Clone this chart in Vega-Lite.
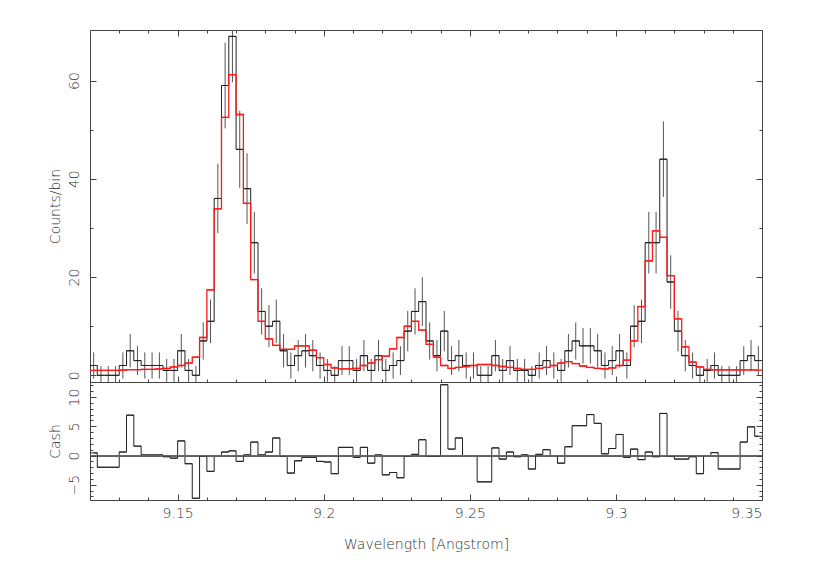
{
"$schema": "https://vega.github.io/schema/vega-lite/v6.json",
"padding": {"left": 48, "top": 29, "right": 5, "bottom": 5},
"spacing": 0,
"bounds": "flush",
"config": {
  "view": {"stroke": null},
  "axis": {"grid": false, "domainColor": "#444", "tickColor": "#444", "labelColor": "#333", "titleColor": "#333", "labelFont": "DejaVu Sans", "titleFont": "DejaVu Sans", "labelFontSize": 14, "titleFontSize": 14, "labelFontWeight": 200, "titleFontWeight": 200}
},
"datasets": {"bins": [
{"lo":9.12,"hi":9.1225,"mid":9.12125,"counts":2,"errLo":-0.66,"errHi":4.66,"model":1.0,"cash":0.45},
{"lo":9.1225,"hi":9.125,"mid":9.12375,"counts":0,"errLo":-1.87,"errHi":1.87,"model":1.0,"cash":-2.0},
{"lo":9.125,"hi":9.1275,"mid":9.12625,"counts":0,"errLo":-1.87,"errHi":1.87,"model":1.0,"cash":-2.0},
{"lo":9.1275,"hi":9.13,"mid":9.12875,"counts":0,"errLo":-1.87,"errHi":1.87,"model":1.0,"cash":-2.0},
{"lo":9.13,"hi":9.1325,"mid":9.13125,"counts":2,"errLo":-0.66,"errHi":4.66,"model":1.05,"cash":0.6},
{"lo":9.1325,"hi":9.135,"mid":9.13375,"counts":5,"errLo":1.6,"errHi":8.4,"model":1.15,"cash":6.9},
{"lo":9.135,"hi":9.1375,"mid":9.13625,"counts":3,"errLo":0.06,"errHi":5.94,"model":1.15,"cash":1.6},
{"lo":9.1375,"hi":9.14,"mid":9.13875,"counts":2,"errLo":-0.66,"errHi":4.66,"model":1.2,"cash":0.1},
{"lo":9.14,"hi":9.1425,"mid":9.14125,"counts":2,"errLo":-0.66,"errHi":4.66,"model":1.2,"cash":0.1},
{"lo":9.1425,"hi":9.145,"mid":9.14375,"counts":2,"errLo":-0.66,"errHi":4.66,"model":1.3,"cash":0.1},
{"lo":9.145,"hi":9.1475,"mid":9.14625,"counts":1,"errLo":-1.32,"errHi":3.32,"model":1.4,"cash":-0.2},
{"lo":9.1475,"hi":9.15,"mid":9.14875,"counts":1,"errLo":-1.32,"errHi":3.32,"model":1.7,"cash":-0.45},
{"lo":9.15,"hi":9.1525,"mid":9.15125,"counts":5,"errLo":1.6,"errHi":8.4,"model":2.0,"cash":2.5},
{"lo":9.1525,"hi":9.155,"mid":9.15375,"counts":1,"errLo":-1.32,"errHi":3.32,"model":2.5,"cash":-1.4},
{"lo":9.155,"hi":9.1575,"mid":9.15625,"counts":0,"errLo":-1.87,"errHi":1.87,"model":3.7,"cash":-7.3},
{"lo":9.1575,"hi":9.16,"mid":9.15875,"counts":7,"errLo":3.22,"errHi":10.78,"model":7.7,"cash":-0.1},
{"lo":9.16,"hi":9.1625,"mid":9.16125,"counts":11,"errLo":6.57,"errHi":15.43,"model":17.4,"cash":-2.7},
{"lo":9.1625,"hi":9.165,"mid":9.16375,"counts":36,"errLo":28.94,"errHi":43.06,"model":33.9,"cash":0.0},
{"lo":9.165,"hi":9.1675,"mid":9.16625,"counts":59,"errLo":50.27,"errHi":67.73,"model":52.5,"cash":0.6},
{"lo":9.1675,"hi":9.17,"mid":9.16875,"counts":69,"errLo":59.65,"errHi":78.35,"model":61.2,"cash":0.8},
{"lo":9.17,"hi":9.1725,"mid":9.17125,"counts":46,"errLo":38.16,"errHi":53.84,"model":53.1,"cash":-1.0},
{"lo":9.1725,"hi":9.175,"mid":9.17375,"counts":38,"errLo":30.78,"errHi":45.22,"model":35.0,"cash":0.1},
{"lo":9.175,"hi":9.1775,"mid":9.17625,"counts":27,"errLo":20.73,"errHi":33.27,"model":19.5,"cash":2.3},
{"lo":9.1775,"hi":9.18,"mid":9.17875,"counts":13,"errLo":8.29,"errHi":17.71,"model":11.0,"cash":0.1},
{"lo":9.18,"hi":9.1825,"mid":9.18125,"counts":10,"errLo":5.72,"errHi":14.28,"model":7.4,"cash":0.6},
{"lo":9.1825,"hi":9.185,"mid":9.18375,"counts":11,"errLo":6.57,"errHi":15.43,"model":6.1,"cash":3.0},
{"lo":9.185,"hi":9.1875,"mid":9.18625,"counts":5,"errLo":1.6,"errHi":8.4,"model":5.3,"cash":-0.1},
{"lo":9.1875,"hi":9.19,"mid":9.18875,"counts":2,"errLo":-0.66,"errHi":4.66,"model":5.3,"cash":-3.0},
{"lo":9.19,"hi":9.1925,"mid":9.19125,"counts":4,"errLo":0.82,"errHi":7.18,"model":6.0,"cash":-0.9},
{"lo":9.1925,"hi":9.195,"mid":9.19375,"counts":5,"errLo":1.6,"errHi":8.4,"model":6.0,"cash":-0.3},
{"lo":9.195,"hi":9.1975,"mid":9.19625,"counts":4,"errLo":0.82,"errHi":7.18,"model":5.1,"cash":-0.3},
{"lo":9.1975,"hi":9.2,"mid":9.19875,"counts":2,"errLo":-0.66,"errHi":4.66,"model":3.6,"cash":-1.0},
{"lo":9.2,"hi":9.2025,"mid":9.20125,"counts":1,"errLo":-1.32,"errHi":3.32,"model":2.2,"cash":-1.1},
{"lo":9.2025,"hi":9.205,"mid":9.20375,"counts":0,"errLo":-1.87,"errHi":1.87,"model":1.5,"cash":-3.1},
{"lo":9.205,"hi":9.2075,"mid":9.20625,"counts":3,"errLo":0.06,"errHi":5.94,"model":1.3,"cash":1.4},
{"lo":9.2075,"hi":9.21,"mid":9.20875,"counts":3,"errLo":0.06,"errHi":5.94,"model":1.3,"cash":1.4},
{"lo":9.21,"hi":9.2125,"mid":9.21125,"counts":1,"errLo":-1.32,"errHi":3.32,"model":1.4,"cash":-0.3},
{"lo":9.2125,"hi":9.215,"mid":9.21375,"counts":4,"errLo":0.82,"errHi":7.18,"model":2.0,"cash":1.4},
{"lo":9.215,"hi":9.2175,"mid":9.21625,"counts":1,"errLo":-1.32,"errHi":3.32,"model":2.5,"cash":-1.3},
{"lo":9.2175,"hi":9.22,"mid":9.21875,"counts":4,"errLo":0.82,"errHi":7.18,"model":3.2,"cash":0.1},
{"lo":9.22,"hi":9.2225,"mid":9.22125,"counts":1,"errLo":-1.32,"errHi":3.32,"model":3.9,"cash":-3.3},
{"lo":9.2225,"hi":9.225,"mid":9.22375,"counts":2,"errLo":-0.66,"errHi":4.66,"model":5.4,"cash":-2.9},
{"lo":9.225,"hi":9.2275,"mid":9.22625,"counts":3,"errLo":0.06,"errHi":5.94,"model":7.7,"cash":-3.8},
{"lo":9.2275,"hi":9.23,"mid":9.22875,"counts":9,"errLo":4.88,"errHi":13.12,"model":10.0,"cash":-0.1},
{"lo":9.23,"hi":9.2325,"mid":9.23125,"counts":13,"errLo":8.29,"errHi":17.71,"model":11.0,"cash":0.2},
{"lo":9.2325,"hi":9.235,"mid":9.23375,"counts":15,"errLo":10.03,"errHi":19.97,"model":9.2,"cash":2.7},
{"lo":9.235,"hi":9.2375,"mid":9.23625,"counts":7,"errLo":3.22,"errHi":10.78,"model":6.3,"cash":-0.1},
{"lo":9.2375,"hi":9.24,"mid":9.23875,"counts":4,"errLo":0.82,"errHi":7.18,"model":3.7,"cash":-0.1},
{"lo":9.24,"hi":9.2425,"mid":9.24125,"counts":9,"errLo":4.88,"errHi":13.12,"model":2.0,"cash":12.1},
{"lo":9.2425,"hi":9.245,"mid":9.24375,"counts":3,"errLo":0.06,"errHi":5.94,"model":1.4,"cash":1.1},
{"lo":9.245,"hi":9.2475,"mid":9.24625,"counts":4,"errLo":0.82,"errHi":7.18,"model":1.6,"cash":3.0},
{"lo":9.2475,"hi":9.25,"mid":9.24875,"counts":2,"errLo":-0.66,"errHi":4.66,"model":1.8,"cash":0.0},
{"lo":9.25,"hi":9.2525,"mid":9.25125,"counts":2,"errLo":-0.66,"errHi":4.66,"model":2.0,"cash":0.0},
{"lo":9.2525,"hi":9.255,"mid":9.25375,"counts":0,"errLo":-1.87,"errHi":1.87,"model":2.2,"cash":-4.5},
{"lo":9.255,"hi":9.2575,"mid":9.25625,"counts":0,"errLo":-1.87,"errHi":1.87,"model":2.2,"cash":-4.5},
{"lo":9.2575,"hi":9.26,"mid":9.25875,"counts":4,"errLo":0.82,"errHi":7.18,"model":2.0,"cash":1.3},
{"lo":9.26,"hi":9.2625,"mid":9.26125,"counts":1,"errLo":-1.32,"errHi":3.32,"model":1.8,"cash":-0.6},
{"lo":9.2625,"hi":9.265,"mid":9.26375,"counts":3,"errLo":0.06,"errHi":5.94,"model":1.6,"cash":0.6},
{"lo":9.265,"hi":9.2675,"mid":9.26625,"counts":1,"errLo":-1.32,"errHi":3.32,"model":1.4,"cash":-0.2},
{"lo":9.2675,"hi":9.27,"mid":9.26875,"counts":1,"errLo":-1.32,"errHi":3.32,"model":1.2,"cash":0.1},
{"lo":9.27,"hi":9.2725,"mid":9.27125,"counts":0,"errLo":-1.87,"errHi":1.87,"model":1.2,"cash":-2.3},
{"lo":9.2725,"hi":9.275,"mid":9.27375,"counts":2,"errLo":-0.66,"errHi":4.66,"model":1.4,"cash":0.2},
{"lo":9.275,"hi":9.2775,"mid":9.27625,"counts":3,"errLo":0.06,"errHi":5.94,"model":1.6,"cash":1.0},
{"lo":9.2775,"hi":9.28,"mid":9.27875,"counts":2,"errLo":-0.66,"errHi":4.66,"model":2.0,"cash":0.0},
{"lo":9.28,"hi":9.2825,"mid":9.28125,"counts":1,"errLo":-1.32,"errHi":3.32,"model":2.5,"cash":-1.3},
{"lo":9.2825,"hi":9.285,"mid":9.28375,"counts":5,"errLo":1.6,"errHi":8.4,"model":2.8,"cash":1.5},
{"lo":9.285,"hi":9.2875,"mid":9.28625,"counts":7,"errLo":3.22,"errHi":10.78,"model":2.4,"cash":5.1},
{"lo":9.2875,"hi":9.29,"mid":9.28875,"counts":6,"errLo":2.4,"errHi":9.6,"model":1.9,"cash":5.1},
{"lo":9.29,"hi":9.2925,"mid":9.29125,"counts":6,"errLo":2.4,"errHi":9.6,"model":1.6,"cash":7.0},
{"lo":9.2925,"hi":9.295,"mid":9.29375,"counts":5,"errLo":1.6,"errHi":8.4,"model":1.4,"cash":5.5},
{"lo":9.295,"hi":9.2975,"mid":9.29625,"counts":2,"errLo":-0.66,"errHi":4.66,"model":1.3,"cash":0.3},
{"lo":9.2975,"hi":9.3,"mid":9.29875,"counts":3,"errLo":0.06,"errHi":5.94,"model":1.5,"cash":1.2},
{"lo":9.3,"hi":9.3025,"mid":9.30125,"counts":5,"errLo":1.6,"errHi":8.4,"model":2.0,"cash":3.6},
{"lo":9.3025,"hi":9.305,"mid":9.30375,"counts":2,"errLo":-0.66,"errHi":4.66,"model":3.1,"cash":-0.3},
{"lo":9.305,"hi":9.3075,"mid":9.30625,"counts":10,"errLo":5.72,"errHi":14.28,"model":7.0,"cash":1.1},
{"lo":9.3075,"hi":9.31,"mid":9.30875,"counts":11,"errLo":6.57,"errHi":15.43,"model":14.0,"cash":-0.7},
{"lo":9.31,"hi":9.3125,"mid":9.31125,"counts":27,"errLo":20.73,"errHi":33.27,"model":23.3,"cash":0.6},
{"lo":9.3125,"hi":9.315,"mid":9.31375,"counts":27,"errLo":20.73,"errHi":33.27,"model":29.4,"cash":-0.2},
{"lo":9.315,"hi":9.3175,"mid":9.31625,"counts":44,"errLo":36.31,"errHi":51.69,"model":28.1,"cash":7.2},
{"lo":9.3175,"hi":9.32,"mid":9.31875,"counts":19,"errLo":13.56,"errHi":24.44,"model":20.3,"cash":-0.1},
{"lo":9.32,"hi":9.3225,"mid":9.32125,"counts":9,"errLo":4.88,"errHi":13.12,"model":11.5,"cash":-0.6},
{"lo":9.3225,"hi":9.325,"mid":9.32375,"counts":4,"errLo":0.82,"errHi":7.18,"model":5.8,"cash":-0.6},
{"lo":9.325,"hi":9.3275,"mid":9.32625,"counts":2,"errLo":-0.66,"errHi":4.66,"model":2.7,"cash":-0.2},
{"lo":9.3275,"hi":9.33,"mid":9.32875,"counts":0,"errLo":-1.87,"errHi":1.87,"model":1.7,"cash":-3.1},
{"lo":9.33,"hi":9.3325,"mid":9.33125,"counts":1,"errLo":-1.32,"errHi":3.32,"model":1.2,"cash":0.0},
{"lo":9.3325,"hi":9.335,"mid":9.33375,"counts":2,"errLo":-0.66,"errHi":4.66,"model":1.1,"cash":0.5},
{"lo":9.335,"hi":9.3375,"mid":9.33625,"counts":0,"errLo":-1.87,"errHi":1.87,"model":1.1,"cash":-2.3},
{"lo":9.3375,"hi":9.34,"mid":9.33875,"counts":0,"errLo":-1.87,"errHi":1.87,"model":1.1,"cash":-2.3},
{"lo":9.34,"hi":9.3425,"mid":9.34125,"counts":0,"errLo":-1.87,"errHi":1.87,"model":1.1,"cash":-2.3},
{"lo":9.3425,"hi":9.345,"mid":9.34375,"counts":3,"errLo":0.06,"errHi":5.94,"model":1.1,"cash":2.3},
{"lo":9.345,"hi":9.3475,"mid":9.34625,"counts":4,"errLo":0.82,"errHi":7.18,"model":1.1,"cash":4.9},
{"lo":9.3475,"hi":9.35,"mid":9.34875,"counts":3,"errLo":0.06,"errHi":5.94,"model":1.05,"cash":3.3}
]},
"vconcat": [
{
  "width": 672, "height": 352,
  "data": {"name": "bins"},
  "resolve": {"axis": {"x": "independent", "y": "independent"}},
  "layer": [
    {"mark": {"type": "rule", "color": "#555", "strokeWidth": 1, "clip": true},
     "encoding": {
       "x": {"field": "mid", "type": "quantitative", "scale": {"domain": [9.12, 9.35], "nice": false, "zero": false},
             "axis": {"orient": "bottom", "values": [9.15, 9.2, 9.25, 9.3, 9.35], "labels": false, "tickSize": -6, "title": null}},
       "y": {"field": "errLo", "type": "quantitative", "scale": {"domain": [-1.36, 70.3], "nice": false, "zero": false},
             "axis": {"orient": "left", "values": [0, 20, 40, 60], "tickSize": -6, "labelAngle": 270, "labelAlign": "center", "labelBaseline": "bottom", "labelPadding": 15, "title": "Counts/bin", "titleX": -35, "titleBaseline": "middle"}},
       "y2": {"field": "errHi"}
     }},
    {"mark": {"type": "rule", "color": "#222", "strokeWidth": 1, "clip": true},
     "encoding": {
       "x": {"field": "lo", "type": "quantitative", "axis": {"orient": "top", "values": [9.15, 9.2, 9.25, 9.3, 9.35], "labels": false, "tickSize": -6, "title": null}},
       "x2": {"field": "hi"},
       "y": {"field": "counts", "type": "quantitative", "axis": {"orient": "right", "values": [0, 20, 40, 60], "labels": false, "tickSize": -6, "title": null}}
     }},
    {"mark": {"type": "line", "color": "#222", "strokeWidth": 1, "interpolate": "step", "clip": true},
     "encoding": {
       "x": {"field": "mid", "type": "quantitative", "axis": {"orient": "bottom", "values": [9.13, 9.14, 9.16, 9.17, 9.18, 9.19, 9.21, 9.22, 9.23, 9.24, 9.26, 9.27, 9.28, 9.29, 9.31, 9.32, 9.33, 9.34], "labels": false, "domain": false, "tickSize": -3, "title": null}},
       "y": {"field": "counts", "type": "quantitative", "axis": {"orient": "left", "values": [10, 30, 50], "labels": false, "domain": false, "tickSize": -3, "title": null}}
     }},
    {"mark": {"type": "rule", "color": "#ff1a1a", "strokeWidth": 1.3, "clip": true},
     "encoding": {
       "x": {"field": "lo", "type": "quantitative", "axis": {"orient": "top", "values": [9.13, 9.14, 9.16, 9.17, 9.18, 9.19, 9.21, 9.22, 9.23, 9.24, 9.26, 9.27, 9.28, 9.29, 9.31, 9.32, 9.33, 9.34], "labels": false, "domain": false, "tickSize": -3, "title": null}},
       "x2": {"field": "hi"},
       "y": {"field": "model", "type": "quantitative", "axis": {"orient": "right", "values": [10, 30, 50], "labels": false, "domain": false, "tickSize": -3, "title": null}}
     }},
    {"mark": {"type": "line", "color": "#ff1a1a", "strokeWidth": 1.3, "interpolate": "step", "clip": true},
     "encoding": {
       "x": {"field": "mid", "type": "quantitative", "axis": null},
       "y": {"field": "model", "type": "quantitative", "axis": null}
     }}
  ]
},
{
  "width": 672, "height": 118,
  "data": {"name": "bins"},
  "resolve": {"axis": {"x": "independent", "y": "independent"}},
  "layer": [
    {"mark": {"type": "rule", "color": "#222", "strokeWidth": 1, "clip": true},
     "encoding": {
       "x": {"field": "lo", "type": "quantitative", "scale": {"domain": [9.12, 9.35], "nice": false, "zero": false},
             "axis": {"orient": "bottom", "values": [9.15, 9.2, 9.25, 9.3, 9.35], "format": "~g", "tickSize": -6, "labelPadding": 12, "title": "Wavelength [Angstrom]", "titleY": 44, "titleBaseline": "middle"}},
       "x2": {"field": "hi"},
       "y": {"field": "cash", "type": "quantitative", "scale": {"domain": [-7.6, 12.57], "nice": false, "zero": false},
             "axis": {"orient": "left", "values": [-5, 0, 5, 10], "tickSize": -6, "labelAngle": 270, "labelAlign": "center", "labelBaseline": "bottom", "labelPadding": 15, "title": "Cash", "titleX": -35, "titleBaseline": "middle"}}
     }},
    {"mark": {"type": "line", "color": "#222", "strokeWidth": 1, "interpolate": "step", "clip": true},
     "encoding": {
       "x": {"field": "mid", "type": "quantitative", "axis": {"orient": "top", "values": [9.15], "labels": false, "ticks": false, "title": null}},
       "y": {"field": "cash", "type": "quantitative", "axis": {"orient": "right", "values": [-5, 0, 5, 10], "labels": false, "tickSize": -6, "title": null}}
     }},
    {"mark": {"type": "rule", "color": "#666", "strokeWidth": 1},
     "encoding": {
       "x": {"datum": 9.12, "type": "quantitative", "axis": {"orient": "bottom", "values": [9.13, 9.14, 9.16, 9.17, 9.18, 9.19, 9.21, 9.22, 9.23, 9.24, 9.26, 9.27, 9.28, 9.29, 9.31, 9.32, 9.33, 9.34], "labels": false, "domain": false, "tickSize": -3, "title": null}},
       "x2": {"datum": 9.35},
       "y": {"datum": 0, "type": "quantitative", "axis": {"orient": "left", "values": [-7, -6, -4, -3, -2, -1, 1, 2, 3, 4, 6, 7, 8, 9, 11, 12], "labels": false, "domain": false, "tickSize": -3, "title": null}}
     }},
    {"mark": {"type": "rule", "color": "#666", "strokeWidth": 1},
     "encoding": {
       "x": {"datum": 9.12, "type": "quantitative", "axis": null},
       "x2": {"datum": 9.35},
       "y": {"datum": 0, "type": "quantitative", "axis": {"orient": "right", "values": [-7, -6, -4, -3, -2, -1, 1, 2, 3, 4, 6, 7, 8, 9, 11, 12], "labels": false, "domain": false, "tickSize": -3, "title": null}}
     }}
  ]
}
]
}
